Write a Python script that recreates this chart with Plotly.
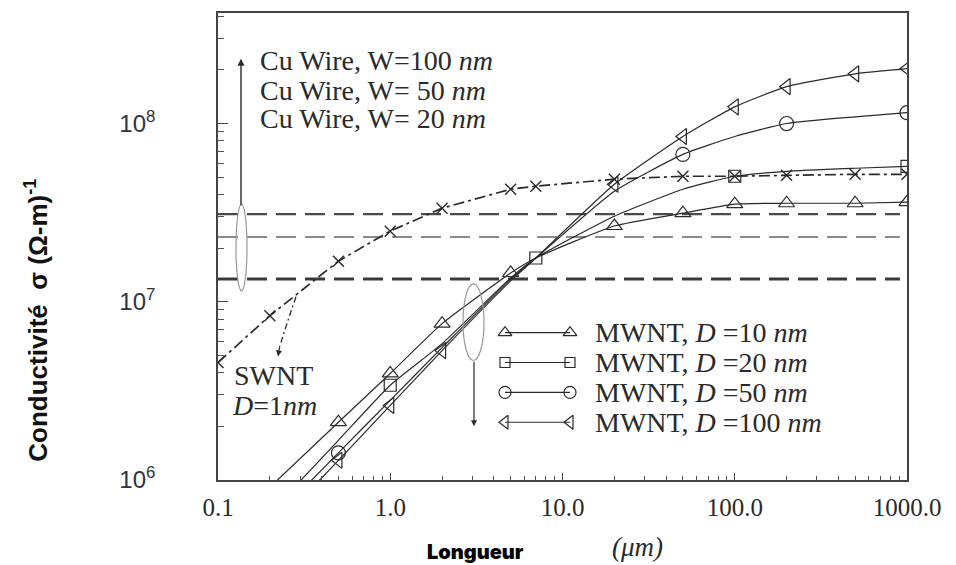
import plotly.graph_objects as go

FIG_W, FIG_H = 956, 565
PLOT_L, PLOT_R, PLOT_T, PLOT_B = 218, 907, 11, 480

# ---------------- data ----------------
swnt_length = [0.1, 0.2, 0.5, 1, 2, 5, 7, 20, 50, 100, 200, 500, 1000]
swnt_sigma = [4.56e6, 8.35e6, 1.69e7, 2.49e7, 3.35e7, 4.28e7, 4.45e7, 4.87e7,
              5.06e7, 5.06e7, 5.12e7, 5.19e7, 5.19e7]

mwnt_length = [0.2, 0.5, 1, 2, 5, 7, 20, 50, 100, 200, 500, 1000]
mwnt10 = [9.1e5, 2.11e6, 3.96e6, 7.54e6, 1.45e7, 1.76e7, 2.66e7, 3.14e7, 3.53e7, 3.57e7, 3.57e7, 3.62e7]
mwnt20 = [6.5e5, 1.67e6, 3.40e6, 5.82e6, 1.36e7, 1.76e7, 3.02e7, 4.28e7, 5.06e7, 5.39e7, 5.61e7, 5.75e7]
mwnt50 = [5.75e5, 1.42e6, 2.80e6, 5.53e6, 1.34e7, 1.76e7, 4.17e7, 6.71e7, 8.46e7, 1.00e8, 1.09e8, 1.15e8]
mwnt100 = [5.06e5, 1.29e6, 2.62e6, 5.32e6, 1.31e7, 1.76e7, 4.56e7, 8.46e7, 1.24e8, 1.61e8, 1.90e8, 2.03e8]

mwnt10_marked = [0.5, 1, 2, 5, 20, 50, 100, 200, 500, 1000]
mwnt20_marked = [1, 7, 100, 1000]
mwnt50_marked = [0.5, 50, 200, 1000]
mwnt100_marked = [0.5, 1, 2, 20, 50, 100, 200, 500, 1000]

mwnt_labels = ["MWNT, <i>D</i> =10 <i>nm</i>", "MWNT, <i>D</i> =20 <i>nm</i>",
               "MWNT, <i>D</i> =50 <i>nm</i>", "MWNT, <i>D</i> =100 <i>nm</i>"]

cu_labels = ["Cu Wire, W=100 <i>nm</i>", "Cu Wire, W= 50 <i>nm</i>", "Cu Wire, W= 20 <i>nm</i>"]
cu_sigma = [3.10e7, 2.31e7, 1.34e7]
cu_span = [0.1, 910]

x_tick_vals = [0.1, 1, 10, 100, 1000]
x_tick_text = ["0.1", "1.0", "10.0", "100.0", "1000.0"]
y_tick_vals = [1e6, 1e7, 1e8]
y_tick_text = ["10<sup>6</sup>", "10<sup>7</sup>", "10<sup>8</sup>"]

# ---------------- helpers ----------------
def pxx(x):
    return (x - PLOT_L) / (PLOT_R - PLOT_L)

def pxy(y):
    return (PLOT_B - y) / (PLOT_B - PLOT_T)

def subset(xs, ys, marked):
    return marked, [ys[xs.index(v)] for v in marked]

INK = "#2a2a2a"
SERIF = "Liberation Serif, Times New Roman, serif"
SANS = "Liberation Sans, Arial, sans-serif"

fig = go.Figure()

# Cu wire horizontal dashed lines
cu_widths = [2.4, 1.4, 3.0]
cu_colors = ["#4a4a4a", "#666666", "#3a3a3a"]
for s, w, c in zip(cu_sigma, cu_widths, cu_colors):
    fig.add_trace(go.Scatter(x=cu_span, y=[s, s], mode="lines",
                             line=dict(color=c, width=w, dash="20px,9px"),
                             hoverinfo="skip", showlegend=False))

# SWNT
fig.add_trace(go.Scatter(x=swnt_length, y=swnt_sigma, mode="lines+markers",
                         line=dict(color=INK, width=1.7, dash="11px,4px,3px,4px"),
                         marker=dict(symbol="x-thin", size=11, color=INK,
                                     line=dict(width=1.4, color=INK)),
                         showlegend=False))

series = [
    (mwnt10, mwnt10_marked, "triangle-up-open", 14),
    (mwnt20, mwnt20_marked, "square-open", 12),
    (mwnt50, mwnt50_marked, "circle-open", 14),
    (mwnt100, mwnt100_marked, "triangle-left-open", 14),
]
for ys, marked, sym, sz in series:
    fig.add_trace(go.Scatter(x=mwnt_length, y=ys, mode="lines",
                             line=dict(color=INK, width=1.2, shape="spline", smoothing=0.5),
                             showlegend=False, hoverinfo="skip"))
    mx, my = subset(mwnt_length, ys, marked)
    fig.add_trace(go.Scatter(x=mx, y=my, mode="markers",
                             marker=dict(symbol=sym, size=sz, color=INK,
                                         line=dict(width=1.2, color=INK)),
                             showlegend=False))

# custom legend (helper axes in pixel units)
leg_rows = [332, 362, 392, 422]
leg_x0, leg_x1, leg_text_x = 505, 570, 593
for (ys, marked, sym, sz), yr in zip(series, leg_rows):
    fig.add_trace(go.Scatter(x=[leg_x0, leg_x1], y=[yr, yr], mode="lines+markers",
                             xaxis="x2", yaxis="y2",
                             line=dict(color=INK, width=1.2),
                             marker=dict(symbol=sym, size=sz - 2, color=INK,
                                         line=dict(width=1.2, color=INK)),
                             showlegend=False, hoverinfo="skip"))

annotations = []
for yr, lab in zip(leg_rows, mwnt_labels):
    annotations.append(dict(x=pxx(leg_text_x), y=pxy(yr), xref="paper", yref="paper",
                            text=lab, showarrow=False, xanchor="left", yanchor="middle",
                            font=dict(family=SERIF, size=28, color=INK)))

for yt, lab in zip([59, 89, 117], cu_labels):
    annotations.append(dict(x=pxx(258), y=pxy(yt), xref="paper", yref="paper",
                            text=lab, showarrow=False, xanchor="left", yanchor="middle",
                            font=dict(family=SERIF, size=28, color=INK)))

annotations.append(dict(x=pxx(232), y=pxy(375), xref="paper", yref="paper",
                        text="SWNT", showarrow=False, xanchor="left", yanchor="middle",
                        font=dict(family=SERIF, size=28, color=INK)))
annotations.append(dict(x=pxx(230), y=pxy(405), xref="paper", yref="paper",
                        text="<i>D</i>=1<i>nm</i>", showarrow=False, xanchor="left",
                        yanchor="middle", font=dict(family=SERIF, size=28, color=INK)))

# arrows
annotations.append(dict(x=pxx(241), y=pxy(57), xref="paper", yref="paper", text="",
                        showarrow=True, ax=0, ay=148, axref="pixel", ayref="pixel",
                        arrowhead=2, arrowsize=1, arrowwidth=1.4, arrowcolor=INK))
annotations.append(dict(x=pxx(474), y=pxy(426), xref="paper", yref="paper", text="",
                        showarrow=True, ax=0, ay=-66, axref="pixel", ayref="pixel",
                        arrowhead=2, arrowsize=1, arrowwidth=1.2, arrowcolor=INK))
annotations.append(dict(x=pxx(278), y=pxy(356), xref="paper", yref="paper", text="",
                        showarrow=True, ax=2, ay=-12, axref="pixel", ayref="pixel",
                        arrowhead=2, arrowsize=1, arrowwidth=1.2, arrowcolor=INK))

# axis titles
annotations.append(dict(x=pxx(37), y=pxy(320), xref="paper", yref="paper",
                        text="Conductivité  σ (Ω-m)<sup>-1</sup>", textangle=-90,
                        showarrow=False, xanchor="center", yanchor="middle",
                        font=dict(family=SANS, size=26, color="#111", weight="bold")))
annotations.append(dict(x=pxx(475), y=pxy(552), xref="paper", yref="paper",
                        text="Longueur", showarrow=False, xanchor="center", yanchor="middle",
                        font=dict(family="Inter, Lato, Liberation Sans, sans-serif", size=20,
                                  color="#000", weight=900)))
annotations.append(dict(x=pxx(637), y=pxy(547), xref="paper", yref="paper",
                        text="<i>(μm)</i>", showarrow=False, xanchor="center", yanchor="middle",
                        font=dict(family=SERIF, size=27, color=INK)))

shapes = [
    dict(type="circle", xref="x2", yref="y2", x0=236, x1=247, y0=203, y1=290,
         line=dict(color="#9a9a9a", width=1.2)),
    dict(type="circle", xref="x2", yref="y2", x0=463, x1=484, y0=283, y1=360,
         line=dict(color="#9a9a9a", width=1.2)),
    dict(type="path", xref="x2", yref="y2", path="M 296,296 Q 287,322 280,345",
         line=dict(color=INK, width=1.3, dash="6px,3px,2px,3px")),
]

minor_x = [k * 10.0 ** e for e in range(-1, 3) for k in range(2, 10)]
minor_y = [k * 10.0 ** e for e in range(6, 9) for k in range(2, 10)]

fig.update_layout(
    width=FIG_W, height=FIG_H,
    margin=dict(l=PLOT_L, r=FIG_W - PLOT_R, t=PLOT_T, b=FIG_H - PLOT_B),
    paper_bgcolor="white", plot_bgcolor="white",
    showlegend=False,
    annotations=annotations, shapes=shapes,
    xaxis=dict(type="log", range=[-1, 3], tickmode="array", tickvals=x_tick_vals,
               ticktext=x_tick_text, ticks="inside", ticklen=7, tickwidth=1.2,
               tickcolor="#444", showline=True, mirror=True, linecolor="#444",
               linewidth=1.6, showgrid=False, zeroline=False, ticklabelstandoff=4,
               tickfont=dict(family=SERIF, size=25, color=INK),
               minor=dict(tickvals=minor_x, ticks="inside", ticklen=4, tickwidth=1,
                          tickcolor="#555", showgrid=False)),
    yaxis=dict(type="log", range=[6, 8.62], tickmode="array", tickvals=y_tick_vals,
               ticktext=y_tick_text, ticks="inside", ticklen=10, tickwidth=1.2,
               tickcolor="#444", showline=True, mirror=True, linecolor="#444",
               linewidth=1.6, showgrid=False, zeroline=False, ticklabelstandoff=56,
               tickfont=dict(family=SANS, size=24, color="#333"),
               minor=dict(tickvals=minor_y, ticks="inside", ticklen=6, tickwidth=1,
                          tickcolor="#555", showgrid=False)),
    xaxis2=dict(overlaying="x", anchor="y2", range=[PLOT_L, PLOT_R], visible=False),
    yaxis2=dict(overlaying="y", anchor="x2", range=[PLOT_B, PLOT_T], visible=False),
)

fig.write_html("out.html")
